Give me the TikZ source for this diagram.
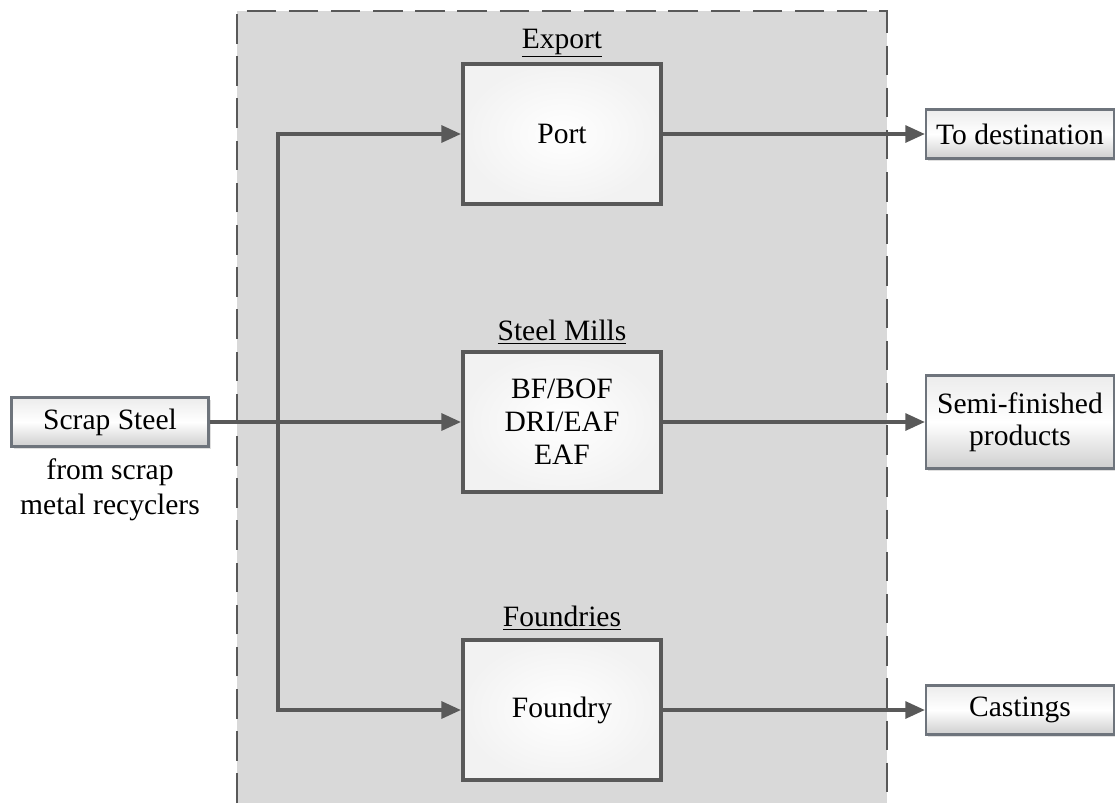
\documentclass[tikz,border=0pt]{standalone}
\usepackage{fontspec}
\setmainfont{Liberation Serif}
\usepackage{tikz}
\usetikzlibrary{arrows.meta,calc,shadows}
\usepackage{xcolor}
\definecolor{linegray}{HTML}{595959}
\definecolor{panelbg}{HTML}{D9D9D9}
\definecolor{framegray}{HTML}{6E747C}

\begin{document}
\begin{tikzpicture}[x=0.025cm, y=-0.025cm,
  font=\fontsize{21}{23.5}\selectfont,
  plant/.style={draw=linegray, line width=2.8pt, fill=white, inner color=white, outer color=gray!10,
                minimum width=4.95cm, minimum height=3.5cm, align=center},
  tag/.style={draw=framegray, line width=1.5pt, top color=gray!15, bottom color=gray!38, middle color=white,
              drop shadow={opacity=0.25, shadow xshift=1.5pt, shadow yshift=-2pt},
              minimum height=1.225cm, align=center, inner sep=2pt},
  head/.style={align=center},
  arr/.style={-{Triangle[length=14pt, width=12pt]}, line width=2.6pt, linegray}]
  \useasboundingbox (0,0) rectangle (1115,803);
  % panel
  \fill[panelbg] (237,11) rectangle (887,803);
  \draw[linegray, line width=1.5pt, dash pattern=on 21pt off 9pt] (237,803) |- (887,11) -- (887,803);
  % plants
  \node[plant] (port) at (562,134) {Port};
  \node[plant] (mill) at (562,422) {BF/BOF\\DRI/EAF\\EAF};
  \node[plant] (foundry) at (562,710) {Foundry};
  \node[head] (export) at (562,43) {\underline{Export}};
  \node[head] (mills) at (562,332) {\underline{Steel Mills}};
  \node[head] (foundries) at (562,618) {\underline{Foundries}};
  % input and products
  \node[tag, minimum width=4.925cm] (scrap) at (110,422) {Scrap Steel};
  \node[align=center, font=\fontsize{21}{25}\selectfont] (source) at (110,490) {from scrap\\metal recyclers};
  \node[tag, minimum width=4.7cm] (dest) at (1020,134) {To destination};
  \node[tag, minimum width=4.7cm, minimum height=2.325cm, font=\fontsize{21}{22.5}\selectfont] (semi) at (1020,422) {Semi-finished\\products};
  \node[tag, minimum width=4.7cm] (cast) at (1020,710) {Castings};
  \coordinate (split) at (278,422);
  % flows
  \draw[arr] (scrap.east) -- (mill.west);
  \draw[arr] (split) |- (port.west);
  \draw[arr] (split) |- (foundry.west);
  \draw[arr] (port) -- (dest);
  \draw[arr] (mill) -- (semi);
  \draw[arr] (foundry) -- (cast);
\end{tikzpicture}
\end{document}
